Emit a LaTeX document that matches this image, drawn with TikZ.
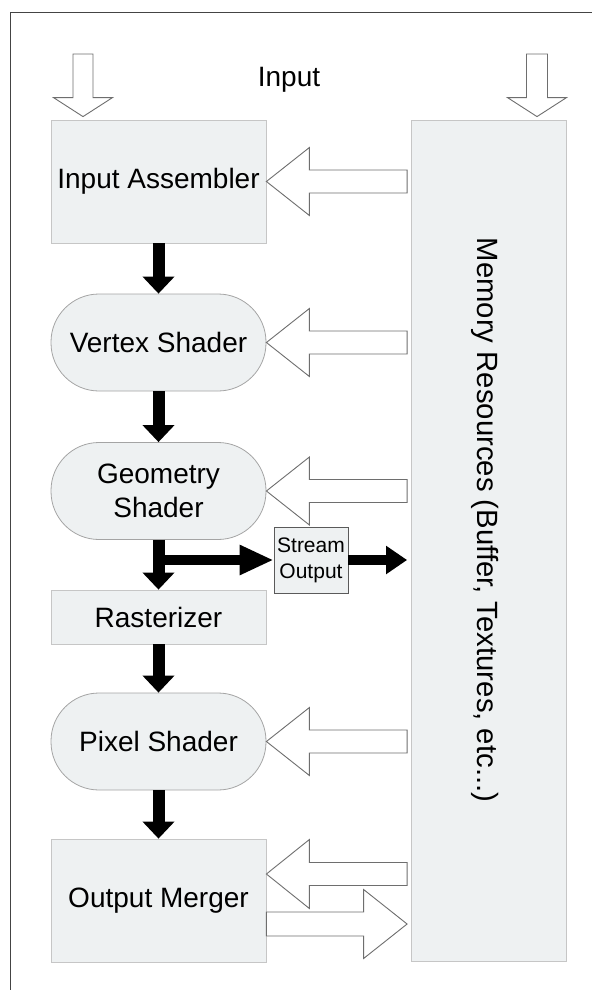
\documentclass[tikz,border=0pt]{standalone}
\usepackage{fontspec}
\setmainfont{Liberation Sans}
\usetikzlibrary{arrows.meta,calc}
\definecolor{boxfill}{HTML}{EEF1F2}
\definecolor{boxline}{HTML}{C6C6C6}
\definecolor{pillline}{HTML}{A4A4A4}
\definecolor{arrowline}{HTML}{6E6E6E}
\definecolor{frameline}{HTML}{444444}
\definecolor{soline}{HTML}{5A5A5A}
% hollow block arrow: tail, tip, half shaft, half head, head length
\newcommand{\blockarrow}[5]{%
  \path (#1) coordinate (ba-t) (#2) coordinate (ba-p);
  \path ($(ba-p)!#5!(ba-t)$) coordinate (ba-h);
  \draw[hollow] ($(ba-t)!#3!90:(ba-p)$) -- ($(ba-h)!#3!-90:(ba-t)$)
    -- ($(ba-h)!#4!-90:(ba-t)$) -- (ba-p) -- ($(ba-h)!#4!90:(ba-t)$)
    -- ($(ba-h)!#3!90:(ba-t)$) -- ($(ba-t)!#3!-90:(ba-p)$) -- cycle;}
\begin{document}
\begin{tikzpicture}[x=1pt, y=-1pt, line join=miter,
  bigfont/.style={font=\fontsize{28}{34}\selectfont},
  stage/.style={draw=boxline, fill=boxfill, line width=0.8pt, minimum width=215pt, inner sep=0pt, align=center, bigfont},
  stagebox/.style={stage, minimum height=123pt},
  pill/.style={stage, draw=pillline, minimum height=97pt, rounded corners=48pt},
  flow/.style={line width=12pt, -{Triangle[width=31pt,length=17pt]}},
  branch/.style={line width=10pt, -{Triangle[width=28pt,length=34pt]}},
  soflow/.style={line width=9.5pt, -{Triangle[width=27pt,length=21pt]}},
  hollow/.style={draw=arrowline, fill=white, line width=0.9pt}]
\useasboundingbox (0,0) rectangle (592,990);
\draw[frameline, line width=1.5pt] (10.5,990) -- (10.5,12.5) -- (592,12.5);
% pipeline stages
\node[stagebox] (ia) at (158.5,181.5) {Input Assembler};
\node[pill] (vs) at (158.5,342.5) {Vertex Shader};
\node[pill] (gs) at (158.5,491) {Geometry\\Shader};
\node[stage, minimum height=54pt] (ras) at (158.5,617) {Rasterizer};
\node[pill] (ps) at (158.5,741.5) {Pixel Shader};
\node[stagebox] (om) at (158.5,900.5) {Output Merger};
\node[draw=soline, fill=boxfill, line width=0.8pt, minimum width=74pt, minimum height=66pt, inner sep=0pt,
  align=center, font=\fontsize{21}{26}\selectfont] (so) at (311,560) {Stream\\Output};
\node[stage, minimum width=155pt, minimum height=841pt] (mem) at (488.5,540.5) {};
\node[rotate=-90, font=\fontsize{29.3}{35}\selectfont] (memlbl) at (485,520) {Memory Resources (Buffer, Textures, etc...)};
\node[bigfont] (inlbl) at (289,80) {Input};
\path ([xshift=-3.5pt]mem.west) coordinate (memin)
  (83,54) coordinate (srcl) (537,54) coordinate (srcr)
  ([yshift=3pt]ia.north) coordinate (iatop)
  ([yshift=3pt]mem.north) coordinate (memtop)
  ([yshift=26.5pt]om.east) coordinate (omin)
  ([yshift=-23.5pt]om.east) coordinate (omout);
% black flow
\foreach \a/\b in {ia/vs,vs/gs,gs/ras,ras/ps,ps/om}
  \draw[flow] (\a) -- (\b);
\draw[branch] (gs |- so) -- (so);
\draw[soflow] (so.east) -- (so.east -| memin);
% hollow arrows
\blockarrow{srcl}{srcl |- iatop}{10pt}{29.5pt}{19pt}
\blockarrow{srcr}{srcr |- memtop}{10.5pt}{29.5pt}{19pt}
\foreach \n in {ia,vs,gs,ps}{
  \blockarrow{memin |- \n.east}{\n.east}{11.5pt}{34pt}{43pt}}
\blockarrow{memin |- omin}{omin}{11.5pt}{34.5pt}{43pt}
\blockarrow{omout}{memin |- omout}{12pt}{34.5pt}{43.5pt}
\end{tikzpicture}
\end{document}
